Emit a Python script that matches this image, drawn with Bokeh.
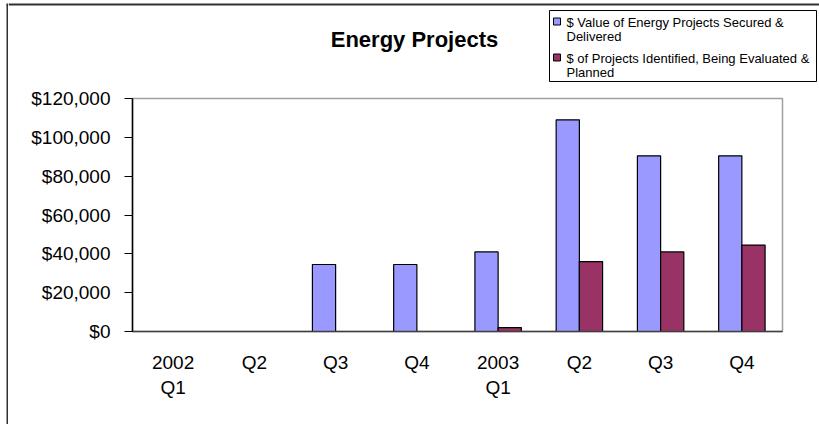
from bokeh.plotting import figure
from bokeh.models import ColumnDataSource, FixedTicker, NumeralTickFormatter, Range1d
from bokeh.layouts import row, column
from bokeh.core.properties import value
from bokeh.transform import dodge
from bokeh.embed import file_html
from bokeh.resources import INLINE

# ---- data ----
quarters = ["2002\nQ1", "Q2", "Q3", "Q4", "2003\nQ1", "Q2", "Q3", "Q4"]
secured = [0, 0, 34500, 34500, 41000, 109000, 90500, 90500]
identified = [0, 0, 0, 0, 2000, 36000, 41000, 44500]
y_ticks = [0, 20000, 40000, 60000, 80000, 100000, 120000]
series_names = ["$ Value of Energy Projects Secured &\nDelivered",
                "$ of Projects Identified, Being Evaluated &\nPlanned"]
series_colors = ["#9999FF", "#993366"]
title_text = "Energy Projects"

FONT = "Liberation Sans"
BORDER = "#303030"

TOTAL_W, TOTAL_H = 819, 424
STRIP_W = 8
TOP_H = 84
W = TOTAL_W - STRIP_W
MAIN_H = TOTAL_H - TOP_H


def bare(width, height, xr, yr):
    f = figure(width=width, height=height, output_backend="svg", toolbar_location=None,
               x_range=xr, y_range=yr, x_axis_type=None, y_axis_type=None,
               min_border=0, frame_align=False)
    f.outline_line_color = None
    f.grid.visible = False
    f.title.visible = False
    f.background_fill_color = "white"
    f.border_fill_color = "white"
    return f


# ---- left strip (chart-area border) ----
strip = bare(STRIP_W, TOTAL_H, Range1d(0, STRIP_W), Range1d(TOTAL_H, 0))
strip.segment(x0=[7, 6], y0=[4, 4], x1=[7, STRIP_W], y1=[TOTAL_H, 4],
              line_color=BORDER, line_width=2)

# ---- top strip: title + legend (pixel coordinates) ----
top = bare(W, TOP_H, Range1d(0, W), Range1d(TOP_H, 0))
top.segment(x0=[0], y0=[4], x1=[W], y1=[4], line_color=BORDER, line_width=2)
top.text(x=[406], y=[39], text=[title_text], text_align="center",
         text_baseline="middle", text_font=value(FONT), text_font_style="bold",
         text_font_size="22px", text_color="black")

# legend box
LX0, LX1, LY0, LY1 = 541, 808, 10, 81
top.quad(left=[LX0], right=[LX1], top=[LY0], bottom=[LY1], fill_color="white",
         line_color="black", line_width=1)
entry_y = [21, 57]
sw = 7
top.quad(left=[LX0 + 4] * 2, right=[LX0 + 4 + sw] * 2,
         top=[y - sw / 2 for y in entry_y], bottom=[y + sw / 2 for y in entry_y],
         fill_color=series_colors, line_color="black", line_width=1)
top.text(x=[LX0 + 17] * 2, y=[y - 7 for y in entry_y], text=series_names,
         text_align="left", text_baseline="top", text_font=value(FONT),
         text_font_size="13px", text_line_height=0.98, text_color="black")

# ---- main chart ----
idx = list(range(len(quarters)))
src = ColumnDataSource(dict(x=idx, secured=secured, identified=identified))

p = figure(width=W, height=MAIN_H, output_backend="svg", toolbar_location=None,
           x_range=Range1d(-0.5, len(quarters) - 0.5), y_range=Range1d(0, 120000),
           min_border_left=124, min_border_right=37, min_border_top=14,
           min_border_bottom=93, frame_align=False)
p.title.visible = False
p.background_fill_color = "white"
p.border_fill_color = "white"
p.outline_line_color = "#a0a0a0"
p.outline_line_width = 1.5
p.xgrid.visible = False
p.ygrid.visible = False

bw = 1 / 3.5
r1 = p.vbar(x=dodge("x", -bw / 2), top="secured", width=bw, source=src,
            fill_color=series_colors[0], line_color="#000000", line_width=1.2)
r2 = p.vbar(x=dodge("x", bw / 2), top="identified", width=bw, source=src,
            fill_color=series_colors[1], line_color="#000000", line_width=1.2)

ya = p.yaxis[0]
ya.ticker = FixedTicker(ticks=y_ticks)
ya.formatter = NumeralTickFormatter(format="$0,0")
ya.major_label_text_font = FONT
ya.major_label_text_font_size = "19px"
ya.major_label_text_color = "black"
ya.major_tick_out = 8
ya.major_tick_in = 0
ya.minor_tick_line_color = None
ya.axis_line_color = "black"
ya.axis_line_width = 1.5
ya.major_tick_line_color = "black"
ya.major_tick_line_width = 1.2
ya.major_label_standoff = 14

xa = p.xaxis[0]
xa.ticker = FixedTicker(ticks=idx)
xa.major_label_overrides = {i: q for i, q in zip(idx, quarters)}
xa.major_label_text_font = FONT
xa.major_label_text_font_size = "19px"
xa.major_label_text_color = "black"
xa.major_tick_line_color = None
xa.major_tick_out = 0
xa.major_tick_in = 0
xa.minor_tick_line_color = None
xa.axis_line_color = "#404040"
xa.axis_line_width = 1.5
xa.major_label_standoff = 20

layout = row(strip, column(top, p, spacing=0), spacing=0)
open("out.html", "w").write(file_html(layout, INLINE))
